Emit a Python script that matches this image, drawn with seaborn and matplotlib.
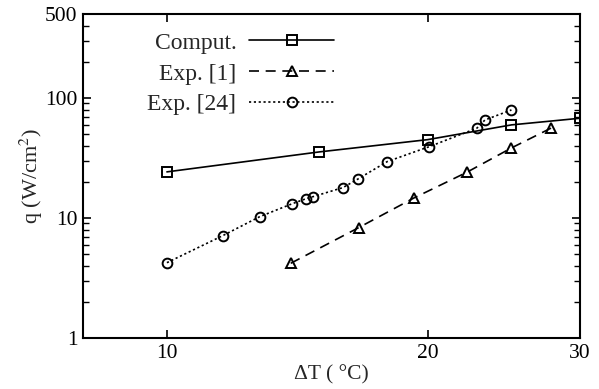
import numpy as np
import pandas as pd
import seaborn as sns
import matplotlib.pyplot as plt
from matplotlib.ticker import FixedLocator, NullLocator, LogLocator, NullFormatter

# values (log-log)
comput_dT = [10, 15, 20, 25, 30]
comput_q = [24.2, 35.5, 44.9, 59.6, 67.7]

exp1_dT = [13.9, 16.65, 19.3, 22.2, 25.0, 27.8]
exp1_q = [4.19, 8.3, 14.7, 24.0, 38.3, 56.2]

exp24_dT = [10.0, 11.6, 12.8, 13.94, 14.49, 14.75, 15.97, 16.62, 17.97, 20.1, 22.8, 23.3, 25.0]
exp24_q = [4.24, 7.12, 10.25, 13.1, 14.5, 15.05, 17.9, 21.1, 29.5, 39.3, 55.9, 65.5, 79.4]

sns.set_style("ticks")
plt.rcParams['font.family'] = ['Liberation Serif', 'DejaVu Serif']
plt.rcParams['mathtext.fontset'] = 'stix'

fig = plt.figure(figsize=(5.99, 3.89), dpi=100)
ax = fig.add_axes([83 / 599, 1 - 338 / 389, (580 - 83) / 599, (338 - 14) / 389])

common = dict(color='black', linewidth=1.2, markerfacecolor='none',
              markeredgecolor='black', markeredgewidth=1.4, ax=ax)

sns.lineplot(x=comput_dT, y=comput_q, marker='s', markersize=7, linestyle='-',
             label='Comput.', **common)
sns.lineplot(x=exp1_dT, y=exp1_q, marker='^', markersize=7.5, linestyle=(0, (6, 4)),
             label='Exp. [1]', **common)
sns.lineplot(x=exp24_dT, y=exp24_q, marker='o', markersize=7, linestyle=(0, (1.3, 1.6)),
             label='Exp. [24]', **common)

ax.set_xscale('log')
ax.set_yscale('log')
ax.set_xlim(8, 30)
ax.set_ylim(1, 500)

ax.xaxis.set_major_locator(FixedLocator([10, 20, 30]))
ax.xaxis.set_minor_locator(NullLocator())
ax.set_xticklabels(['10', '20', '30'])
ax.xaxis.set_minor_formatter(NullFormatter())

ax.yaxis.set_major_locator(FixedLocator([1, 10, 100, 500]))
ax.yaxis.set_minor_locator(LogLocator(base=10, subs=np.arange(2, 10)))
ax.yaxis.set_minor_formatter(NullFormatter())
ax.set_yticklabels(['1', '10', '100', '500'])

ax.tick_params(which='both', direction='in', top=True, right=True, colors='black', labelsize=15.5)
ax.tick_params(which='major', length=6, width=1.2, pad=4)
ax.tick_params(which='minor', length=4, width=1.0)
for s in ax.spines.values():
    s.set_linewidth(1.5)
    s.set_color('black')

ax.set_xlabel('ΔT ( °C)', fontsize=15.5, labelpad=2)
ax.set_ylabel(r'q (W/cm$^2$)', fontsize=16, labelpad=0)

leg = ax.legend(loc='upper left', bbox_to_anchor=(0.087, 1.01), frameon=False,
                markerfirst=False, handlelength=3.6, handletextpad=0.55,
                labelspacing=0.4, fontsize=17)

fig.savefig('out.png', dpi=100)
